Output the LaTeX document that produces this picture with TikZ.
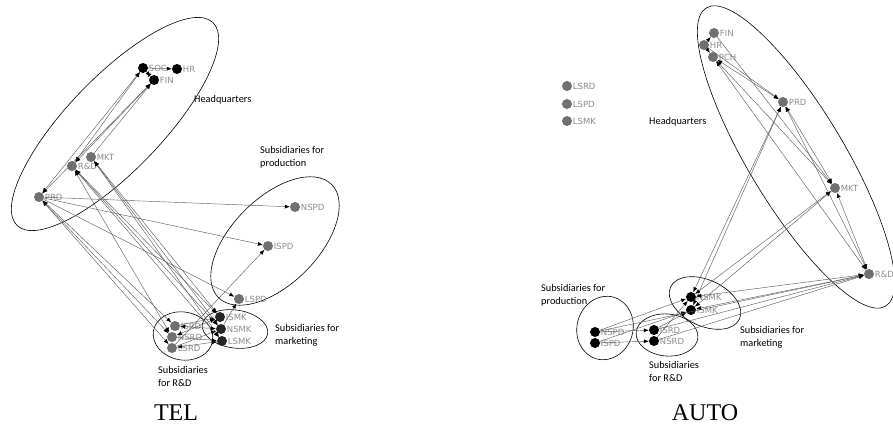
\documentclass[tikz,border=0pt]{standalone}
\usepackage{fontspec}
\setmainfont{Liberation Serif}
\newfontfamily\tagfont{DejaVu Sans}
\newfontfamily\notefont{Carlito}
\usetikzlibrary{shapes.geometric,arrows.meta}
\definecolor{dotgray}{RGB}{112,112,112}
\definecolor{darkdot}{RGB}{38,38,38}
\definecolor{labgray}{RGB}{140,140,140}
\definecolor{tiegray}{RGB}{95,95,95}
\begin{document}
\begin{tikzpicture}
	[x=1pt,y=-1pt,
		mynode/.style={circle,fill=dotgray,minimum size=10pt,inner sep=0pt},
		darknode/.style={mynode,fill=darkdot},
		blacknode/.style={mynode,fill=black},
		mylabel/.style={font=\tagfont\fontsize{8.5}{9}\selectfont,text=labgray,inner sep=0.5pt},
		group/.style={draw,ellipse,inner sep=0pt,line width=0.6pt},
		caption/.style={font=\notefont\fontsize{10.3}{13}\selectfont,align=left,anchor=north west,inner sep=0pt},
		tie/.style={draw=tiegray,line width=0.45pt,-{Latex[length=5pt,width=4pt,color=black]}},
		both/.style={tie,{Latex[length=5pt,width=4pt,color=black]}-{Latex[length=5pt,width=4pt,color=black]}}]
	\useasboundingbox (0,0) rectangle (893,441);

	\node[group,minimum width=282pt,minimum height=94pt,rotate=46] (tHQ) at (115,124) {};
	\node[group,minimum width=160pt,minimum height=86pt,rotate=45] (tPDg) at (275,241) {};
	\node[group,minimum width=60pt,minimum height=48pt,rotate=-10] (tRDg) at (183,336) {};
	\node[group,minimum width=66pt,minimum height=38pt,rotate=-8] (tMKg) at (235,329) {};

	\node[blacknode,label={[mylabel]0:SOC}] (tSOC) at (143,68) {};
	\node[blacknode,label={[mylabel]0:HR}] (tHR) at (177,69) {};
	\node[blacknode,label={[mylabel]0:FIN}] (tFIN) at (154,80) {};
	\node[mynode,label={[mylabel]0:MKT}] (tMKT) at (91,157) {};
	\node[mynode,label={[mylabel]0:R\&D}] (tRD) at (72,166) {};
	\node[mynode,label={[mylabel]0:PRD}] (tPRD) at (39,197) {};
	\node[mynode,label={[mylabel]0:NSPD}] (tNSPD) at (295,207) {};
	\node[mynode,label={[mylabel]0:ISPD}] (tISPD) at (268,246) {};
	\node[mynode,label={[mylabel]0:LSPD}] (tLSPD) at (239,299) {};
	\node[darknode,label={[mylabel]0:ISMK}] (tISMK) at (220,317) {};
	\node[darknode,label={[mylabel]0:NSMK}] (tNSMK) at (221,329) {};
	\node[darknode,label={[mylabel]0:LSMK}] (tLSMK) at (222,341) {};
	\node[mynode,label={[mylabel]0:ISRD}] (tISRD) at (175,326) {};
	\node[mynode,label={[mylabel]0:NSRD}] (tNSRD) at (172,337) {};
	\node[mynode,label={[mylabel]0:LSRD}] (tLSRD) at (172,348) {};

	\foreach \a/\b in {tPRD/tNSPD,tPRD/tISPD,tPRD/tLSPD,tLSRD/tISPD,tMKT/tFIN,tSOC/tHR,
		tNSMK/tLSPD,tISRD/tISMK,tLSRD/tNSMK,tNSRD/tLSMK}
	{
		\draw[tie] (\a) -- (\b);
	}
	\foreach \a/\b in {tPRD/tSOC,tRD/tSOC,tRD/tFIN,tPRD/tFIN,tFIN/tSOC,tPRD/tISRD,tPRD/tNSRD,
		tPRD/tLSRD,tRD/tISMK,tRD/tNSMK,tRD/tLSMK,tRD/tNSRD,tMKT/tISMK,tMKT/tNSMK,tMKT/tLSMK,
		tISRD/tNSMK,tNSRD/tISMK,tLSRD/tLSMK}
	{
		\draw[both] (\a) -- (\b);
	}

	\node[caption] (tHQtxt) at (194,95) {Headquarters};
	\node[caption] (tPDtxt) at (260,146) {Subsidiaries for\\production};
	\node[caption] (tMKtxt) at (275,324) {Subsidiaries for\\marketing};
	\node[caption] (tRDtxt) at (158,366) {Subsidiaries\\for R\&D};
	\node[font=\fontsize{24}{28}\selectfont] (tel) at (176,413) {TEL};

	\node[group,minimum width=348pt,minimum height=96pt,rotate=-59] (aHQ) at (796,157) {};
	\node[group,minimum width=76pt,minimum height=46pt,rotate=-25] (aMKg) at (705,303) {};
	\node[group,minimum width=62pt,minimum height=42pt,rotate=-5] (aRDg) at (667,335) {};
	\node[group,minimum width=56pt,minimum height=64pt,rotate=-15] (aPDg) at (605,328) {};

	\node[mynode,label={[mylabel]0:FIN}] (aFIN) at (714,33) {};
	\node[mynode,label={[mylabel]0:HR}] (aHR) at (704,45) {};
	\node[mynode,label={[mylabel]0:PCH}] (aPCH) at (713,57) {};
	\node[mynode,label={[mylabel]0:PRD}] (aPRD) at (783,102) {};
	\node[mynode,label={[mylabel]0:MKT}] (aMKT) at (835,188) {};
	\node[mynode,label={[mylabel]0:R\&D}] (aRD) at (869,274) {};
	\node[mynode,label={[mylabel]0:LSRD}] (aLSRD) at (567,86) {};
	\node[mynode,label={[mylabel]0:LSPD}] (aLSPD) at (567,104) {};
	\node[mynode,label={[mylabel]0:LSMK}] (aLSMK) at (567,121) {};
	\node[blacknode,label={[mylabel]0:NSMK}] (aNSMK) at (691,297) {};
	\node[blacknode,label={[mylabel]0:ISMK}] (aISMK) at (691,310) {};
	\node[blacknode,label={[mylabel]0:NSPD}] (aNSPD) at (595,332) {};
	\node[blacknode,label={[mylabel]0:ISPD}] (aISPD) at (595,343) {};
	\node[blacknode,label={[mylabel]0:ISRD}] (aISRD) at (654,330) {};
	\node[blacknode,label={[mylabel]0:NSRD}] (aNSRD) at (654,341) {};

	\foreach \a/\b in {aHR/aFIN,aHR/aPCH,aHR/aPRD,aFIN/aMKT,aNSPD/aISRD,aISPD/aNSRD,aNSPD/aNSMK,
		aISPD/aISMK,aISRD/aISMK,aNSRD/aNSMK,aNSPD/aRD,aISRD/aRD,aNSRD/aRD}
	{
		\draw[tie] (\a) -- (\b);
	}
	\foreach \a/\b in {aPCH/aPRD,aPCH/aMKT,aPCH/aRD,aPRD/aMKT,aPRD/aRD,aMKT/aRD,aNSMK/aPRD,
		aISMK/aPRD,aNSMK/aMKT,aISMK/aMKT,aNSMK/aRD,aISMK/aRD}
	{
		\draw[both] (\a) -- (\b);
	}

	\node[caption] (aHQtxt) at (649,117) {Headquarters};
	\node[caption] (aPDtxt) at (541,284) {Subsidiaries for\\production};
	\node[caption] (aMKtxt) at (740,326) {Subsidiaries for\\marketing};
	\node[caption] (aRDtxt) at (649,361) {Subsidiaries\\for R\&D};
	\node[font=\fontsize{24}{28}\selectfont] (auto) at (705,413) {AUTO};
\end{tikzpicture}
\end{document}
